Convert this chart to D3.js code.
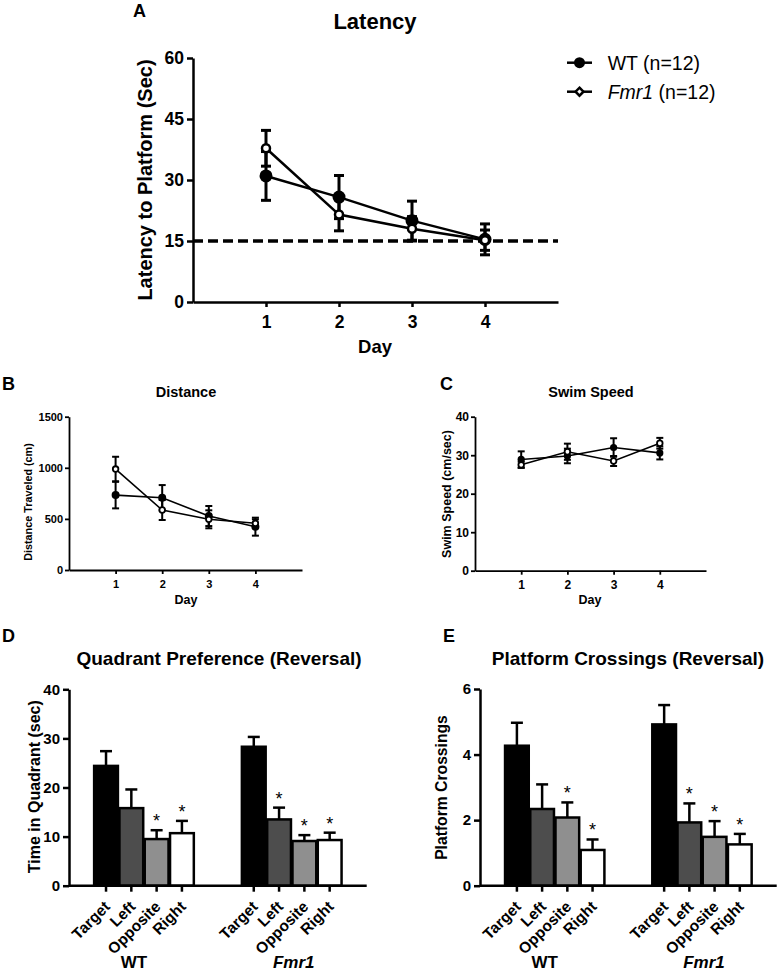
<!DOCTYPE html>
<html><head><meta charset="utf-8">
<script src="https://cdn.jsdelivr.net/npm/d3@7"></script>
<style>body{margin:0;background:#fff} svg{display:block}</style>
</head><body><svg id="c" width="777" height="971"></svg>
<script>
// ---------- DATA ----------
const days = [1, 2, 3, 4];
const latencyWT = [31.0, 25.8, 20.0, 15.4];
const latencyWTErr = [6.0, 5.3, 4.8, 3.8];
const latencyFmr1 = [37.8, 21.5, 18.0, 15.2];
const latencyFmr1Err = [4.4, 4.0, 3.0, 2.5];
const latencyTicks = [0, 15, 30, 45, 60];
const latencyCriterion = 15;

const distanceWT = [733, 707, 528, 424];
const distanceWTErr = [130, 124, 98, 88];
const distanceFmr1 = [988, 587, 496, 457];
const distanceFmr1Err = [120, 98, 88, 39];
const distanceTicks = [0, 500, 1000, 1500];

const speedWT = [28.9, 29.8, 32.0, 30.6];
const speedWTErr = [2.1, 1.9, 2.4, 1.7];
const speedFmr1 = [27.5, 30.9, 28.5, 33.1];
const speedFmr1Err = [0.8, 2.1, 1.3, 1.4];
const speedTicks = [0, 10, 20, 30, 40];

const groups = ["WT", "Fmr1"];
const quadrants = ["Target", "Left", "Opposite", "Right"];
const timeWT = [24.4, 15.8, 9.5, 10.7];
const timeWTErr = [3.0, 3.8, 1.8, 2.5];
const timeFmr1 = [28.3, 13.5, 9.1, 9.3];
const timeFmr1Err = [2.0, 2.4, 1.2, 1.5];
const timeSigWT = [false, false, true, true];
const timeSigFmr1 = [false, true, true, true];
const timeTicks = [0, 10, 20, 30, 40];

const crossWT = [4.27, 2.34, 2.08, 1.09];
const crossWTErr = [0.70, 0.75, 0.46, 0.32];
const crossFmr1 = [4.92, 1.93, 1.49, 1.26];
const crossFmr1Err = [0.59, 0.58, 0.48, 0.32];
const crossSigWT = [false, false, true, true];
const crossSigFmr1 = [false, true, true, true];
const crossTicks = [0, 2, 4, 6];

// ---------- DRAW ----------
const FONT = '"Liberation Sans", Arial, Helvetica, sans-serif';
const svg = d3.select("#c");
const quadFill = d3.scaleOrdinal().domain(quadrants).range(["#000000", "#4d4d4d", "#8f8f8f", "#ffffff"]);
const intFmt = d3.format("d");

function txt(x, y, s, size, opts = {}) {
  const t = svg.append("text").attr("x", x).attr("y", y).attr("font-family", FONT)
    .attr("font-size", size).attr("font-weight", opts.weight || "bold")
    .attr("text-anchor", opts.anchor || "start").attr("fill", "#000").text(s);
  if (opts.rotate) t.attr("transform", `rotate(${opts.rotate},${x},${y})`);
  return t;
}

function styleAxis(a, sw, fs) {
  a.attr("font-family", FONT);
  a.select(".domain").attr("stroke", "#000").attr("stroke-width", sw);
  a.selectAll(".tick line").attr("stroke", "#000").attr("stroke-width", sw);
  a.selectAll(".tick text").attr("fill", "#000").attr("font-size", fs).attr("font-weight", "bold");
}

function linePanel(o) {
  const g = svg.append("g");
  const x = d3.scaleLinear().domain([0, 5]).range([o.x0, o.x1]);
  const y = d3.scaleLinear().domain([0, o.ticks[o.ticks.length - 1]]).range([o.y0, o.y1]);
  const ya = g.append("g").attr("transform", `translate(${o.x0},0)`)
    .call(d3.axisLeft(y).tickValues(o.ticks).tickSize(o.tick).tickSizeOuter(0).tickPadding(o.pad).tickFormat(intFmt));
  const xa = g.append("g").attr("transform", `translate(0,${o.y0})`)
    .call(d3.axisBottom(x).tickValues(days).tickSize(o.tickx).tickSizeOuter(0).tickPadding(o.padx).tickFormat(intFmt));
  styleAxis(ya, o.sw, o.fs);
  styleAxis(xa, o.sw, o.fs);

  if (o.criterion !== undefined) {
    g.append("line").attr("x1", x(0)).attr("x2", x(5)).attr("y1", y(o.criterion)).attr("y2", y(o.criterion))
      .attr("stroke", "#000").attr("stroke-width", o.dashW).attr("stroke-dasharray", o.dash);
  }

  const series = [
    { v: o.wt, e: o.wtErr, filled: true },
    { v: o.fm, e: o.fmErr, filled: false }
  ];
  series.forEach(s => {
    const pts = days.map((d, i) => ({ d, v: s.v[i], e: s.e[i] }));
    pts.forEach(p => {
      const cx = x(p.d);
      g.append("line").attr("x1", cx).attr("x2", cx).attr("y1", y(p.v - p.e)).attr("y2", y(p.v + p.e))
        .attr("stroke", "#000").attr("stroke-width", o.ew);
      [p.v - p.e, p.v + p.e].forEach(val => {
        g.append("line").attr("x1", cx - o.cap).attr("x2", cx + o.cap).attr("y1", y(val)).attr("y2", y(val))
          .attr("stroke", "#000").attr("stroke-width", o.ew);
      });
    });
    g.append("path").datum(pts).attr("fill", "none").attr("stroke", "#000").attr("stroke-width", o.lw)
      .attr("d", d3.line().x(p => x(p.d)).y(p => y(p.v)));
    g.selectAll(null).data(pts).enter().append("circle")
      .attr("cx", p => x(p.d)).attr("cy", p => y(p.v))
      .attr("r", s.filled ? o.rF : o.rO)
      .attr("fill", s.filled ? "#000" : "#fff")
      .attr("stroke", "#000").attr("stroke-width", s.filled ? 0 : o.mw);
  });
  return { x, y };
}

function barPanel(o) {
  const g = svg.append("g");
  const gx = d3.scaleBand().domain(groups).range([o.x0, o.x1]).paddingInner(0.315).paddingOuter(0.165);
  const qx = d3.scaleBand().domain(quadrants).range([0, gx.bandwidth()]).paddingInner(0.06).paddingOuter(0.03);
  const y = d3.scaleLinear().domain([0, o.ticks[o.ticks.length - 1]]).range([o.y0, o.y1]);
  const vals = { WT: o.wt, Fmr1: o.fm };
  const errs = { WT: o.wtErr, Fmr1: o.fmErr };
  const sigs = { WT: o.wtSig, Fmr1: o.fmSig };
  const bars = [];
  groups.forEach(gr => quadrants.forEach((q, i) => {
    bars.push({ gr, q, v: vals[gr][i], e: errs[gr][i], sig: sigs[gr][i],
      x: gx(gr) + qx(q), w: qx.bandwidth(), cx: gx(gr) + qx(q) + qx.bandwidth() / 2 });
  }));
  bars.forEach(b => {
    g.append("line").attr("x1", b.cx).attr("x2", b.cx).attr("y1", y(b.v)).attr("y2", y(b.v + b.e))
      .attr("stroke", "#000").attr("stroke-width", 2.5);
    g.append("line").attr("x1", b.cx - 6).attr("x2", b.cx + 6).attr("y1", y(b.v + b.e)).attr("y2", y(b.v + b.e))
      .attr("stroke", "#000").attr("stroke-width", 2.5);
  });
  g.selectAll(null).data(bars).enter().append("rect")
    .attr("x", b => b.x).attr("width", b => b.w)
    .attr("y", b => y(b.v)).attr("height", b => y(0) - y(b.v))
    .attr("fill", b => quadFill(b.q)).attr("stroke", "#000").attr("stroke-width", 2.5);
  bars.filter(b => b.sig).forEach(b => {
    g.append("text").attr("x", b.cx).attr("y", y(b.v + b.e) - 3).attr("text-anchor", "middle")
      .attr("font-family", FONT).attr("font-size", 18).attr("fill", "#000").text("*");
  });
  const ya = g.append("g").attr("transform", `translate(${o.x0},0)`)
    .call(d3.axisLeft(y).tickValues(o.ticks).tickSize(6).tickSizeOuter(0).tickPadding(3).tickFormat(intFmt));
  styleAxis(ya, 2.5, 15);
  g.append("line").attr("x1", o.x0).attr("x2", o.x1).attr("y1", y(0)).attr("y2", y(0))
    .attr("stroke", "#000").attr("stroke-width", 2.5);
  bars.forEach(b => {
    g.append("line").attr("x1", b.cx).attr("x2", b.cx).attr("y1", y(0)).attr("y2", y(0) + 6)
      .attr("stroke", "#000").attr("stroke-width", 2.5);
    const lx = b.cx + 5, ly = y(0) + 22;
    g.append("text").attr("x", lx).attr("y", ly).attr("transform", `rotate(-45,${lx},${ly})`)
      .attr("text-anchor", "end").attr("font-family", FONT).attr("font-size", 15.5).attr("font-weight", "bold")
      .attr("fill", "#000").text(b.q);
  });
  groups.forEach(gr => {
    const c = gx(gr) + gx.bandwidth() / 2 + (gr === "WT" ? -10 : 2);
    g.append("text").attr("x", c).attr("y", 968).attr("text-anchor", "middle").attr("font-family", FONT)
      .attr("font-size", 17).attr("font-weight", "bold").attr("font-style", gr === "WT" ? "normal" : "italic")
      .attr("fill", "#000").text(gr);
  });
}

// ---- Panel A ----
txt(133, 17, "A", 18);
txt(375, 29, "Latency", 22, { anchor: "middle" });
linePanel({ x0: 193, x1: 558, y0: 302, y1: 58, ticks: latencyTicks, tick: 6, pad: 3, tickx: 5, padx: 9,
  sw: 2.5, fs: 17.5, wt: latencyWT, wtErr: latencyWTErr, fm: latencyFmr1, fmErr: latencyFmr1Err,
  ew: 3, cap: 5, lw: 2.5, rF: 6.5, rO: 4, mw: 2.5, criterion: latencyCriterion, dashW: 3.5, dash: "10,5" });
txt(152, 180, "Latency to Platform (Sec)", 20, { anchor: "middle", rotate: -90 });
txt(375, 353, "Day", 18.5, { anchor: "middle" });

const legend = svg.append("g");
[{ label: "WT", filled: true, cy: 62.7 }, { label: "Fmr1", filled: false, cy: 91.7 }].forEach(l => {
  legend.append("line").attr("x1", 567).attr("x2", 592).attr("y1", l.cy).attr("y2", l.cy)
    .attr("stroke", "#000").attr("stroke-width", 2.5);
  if (l.filled) {
    legend.append("circle").attr("cx", 579.5).attr("cy", l.cy).attr("r", 5.5).attr("fill", "#000");
  } else {
    legend.append("path").attr("transform", `translate(579.5,${l.cy})`)
      .attr("d", d3.symbol(d3.symbolDiamond2, 40)()).attr("fill", "#fff").attr("stroke", "#000").attr("stroke-width", 2.5);
  }
  const t = legend.append("text").attr("x", 607.7).attr("y", l.cy + 7).attr("font-family", FONT)
    .attr("font-size", 19.5).attr("fill", "#000");
  t.append("tspan").attr("font-style", l.filled ? "normal" : "italic").text(l.label);
  t.append("tspan").text(" (n=12)");
});

// ---- Panel B ----
txt(2, 390, "B", 18);
txt(186, 397, "Distance", 14.5, { anchor: "middle" });
linePanel({ x0: 69, x1: 302, y0: 570, y1: 416.7, ticks: distanceTicks, tick: 4, pad: 2, tickx: 4, padx: 6,
  sw: 1.8, fs: 11, wt: distanceWT, wtErr: distanceWTErr, fm: distanceFmr1, fmErr: distanceFmr1Err,
  ew: 2, cap: 3.5, lw: 1.6, rF: 4, rO: 2.8, mw: 1.8 });
txt(31.7, 502, "Distance Traveled (cm)", 10.8, { anchor: "middle", rotate: -90 });
txt(186, 604, "Day", 12.5, { anchor: "middle" });

// ---- Panel C ----
txt(440, 390, "C", 18);
txt(591, 397, "Swim Speed", 14.5, { anchor: "middle" });
linePanel({ x0: 475, x1: 706, y0: 570.7, y1: 416.7, ticks: speedTicks, tick: 4, pad: 2, tickx: 4, padx: 6,
  sw: 1.8, fs: 12, wt: speedWT, wtErr: speedWTErr, fm: speedFmr1, fmErr: speedFmr1Err,
  ew: 2, cap: 3.5, lw: 1.6, rF: 3.6, rO: 2.8, mw: 1.8 });
txt(450.7, 494, "Swim Speed (cm/sec)", 12.5, { anchor: "middle", rotate: -90 });
txt(590, 604, "Day", 12.5, { anchor: "middle" });

// ---- Panel D ----
txt(2, 642, "D", 18);
txt(219, 665, "Quadrant Preference (Reversal)", 19, { anchor: "middle" });
barPanel({ x0: 69, x1: 366.7, y0: 885.7, y1: 689.3, ticks: timeTicks,
  wt: timeWT, wtErr: timeWTErr, fm: timeFmr1, fmErr: timeFmr1Err, wtSig: timeSigWT, fmSig: timeSigFmr1 });
txt(40, 786.7, "Time in Quadrant (sec)", 16, { anchor: "middle", rotate: -90 });

// ---- Panel E ----
txt(443, 642, "E", 18);
txt(628, 665, "Platform Crossings (Reversal)", 19, { anchor: "middle" });
barPanel({ x0: 480, x1: 776.7, y0: 885.7, y1: 689, ticks: crossTicks,
  wt: crossWT, wtErr: crossWTErr, fm: crossFmr1, fmErr: crossFmr1Err, wtSig: crossSigWT, fmSig: crossSigFmr1 });
txt(446.7, 787.5, "Platform Crossings", 15.7, { anchor: "middle", rotate: -90 });
</script>
</body></html>
